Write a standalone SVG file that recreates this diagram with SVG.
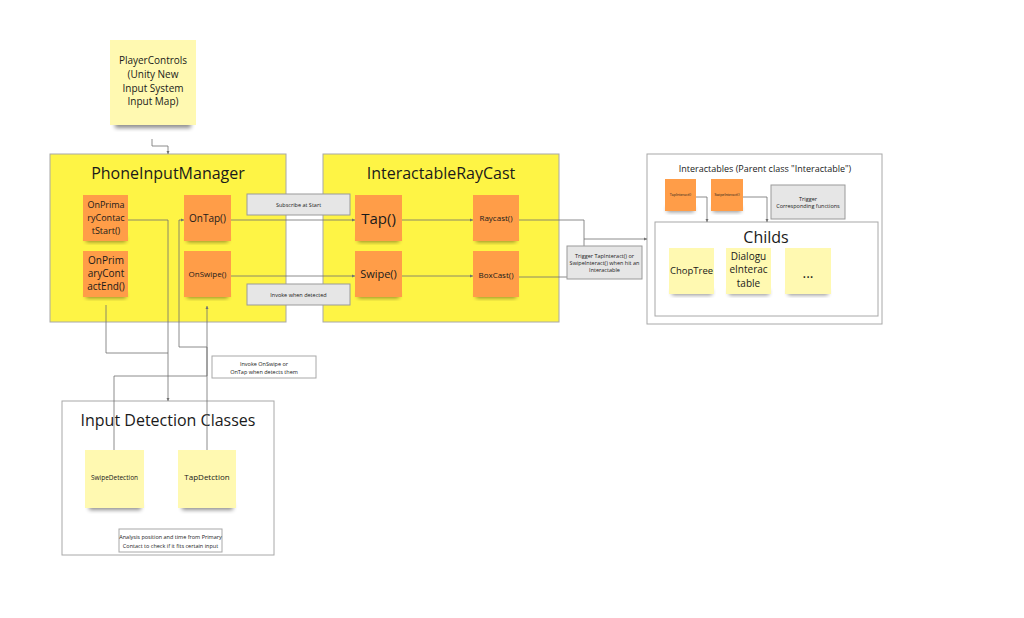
<svg xmlns="http://www.w3.org/2000/svg" width="1024" height="618" viewBox="0 0 1024 618">
<defs>
<style>
text{font-family:"Open Sans","Noto Sans","Liberation Sans",sans-serif;fill:#1a1a1a;text-anchor:middle}
.frame{fill:#FEF445;stroke:#a8a8a8;stroke-width:1}
.wbox{fill:#ffffff;stroke:#a8a8a8;stroke-width:1}
.gbox{fill:#e6e6e6;stroke:#9a9a9a;stroke-width:1}
.orange{fill:#FF9D48}
.lemon{fill:#FFF9B1}
.conn{fill:none;stroke:#707070;stroke-width:0.8}
.shadow{fill:#000;opacity:0.45;filter:url(#blur)}
.tiny{font-size:5.5px}
</style>
<filter id="blur" x="-20%" y="-50%" width="140%" height="200%"><feGaussianBlur stdDeviation="2"/></filter>
<marker id="arr" viewBox="0 0 6 6" refX="6" refY="3" markerWidth="4" markerHeight="4" orient="auto-start-reverse"><path d="M0,0 L6,3 L0,6 z" fill="#707070"/></marker>
</defs>
<rect width="1024" height="618" fill="#ffffff"/>

<g id="player-controls">
<rect class="shadow" x="115" y="121" width="76" height="7"/>
<rect class="lemon" x="110" y="40" width="86" height="85"/>
<text font-size="10"><tspan x="153" y="64">PlayerControls</tspan><tspan x="153" y="78">(Unity New</tspan><tspan x="153" y="92">Input System</tspan><tspan x="153" y="105">Input Map)</tspan></text>
</g>

<g id="phone-input-manager">
<rect class="frame" x="50" y="154" width="236" height="168"/>
<text x="168" y="179" font-size="16">PhoneInputManager</text>
</g>
<g id="on-primary-contact-start">
<rect class="shadow" x="86" y="237" width="40" height="5"/>
<rect class="orange" x="83" y="195" width="45" height="46"/>
<text font-size="9"><tspan x="106" y="208">OnPrima</tspan><tspan x="106" y="221">ryContac</tspan><tspan x="106" y="234">tStart()</tspan></text>
</g>
<g id="on-primary-contact-end">
<rect class="shadow" x="86" y="293" width="40" height="5"/>
<rect class="orange" x="83" y="251" width="45" height="46"/>
<text font-size="10"><tspan x="106" y="264">OnPrim</tspan><tspan x="106" y="277">aryCont</tspan><tspan x="106" y="290">actEnd()</tspan></text>
</g>
<g id="on-tap">
<rect class="shadow" x="187" y="237" width="41" height="5"/>
<rect class="orange" x="184" y="195" width="47" height="46"/>
<text x="207.5" y="222" font-size="10">OnTap()</text>
</g>
<g id="on-swipe">
<rect class="shadow" x="187" y="293" width="41" height="5"/>
<rect class="orange" x="184" y="251" width="47" height="46"/>
<text x="207.5" y="277" font-size="8">OnSwipe()</text>
</g>

<g id="interactable-raycast">
<rect class="frame" x="323" y="154" width="236" height="168"/>
<text x="441" y="179" font-size="16">InteractableRayCast</text>
</g>
<g id="tap">
<rect class="shadow" x="358" y="237" width="41" height="5"/>
<rect class="orange" x="355" y="195" width="47" height="46"/>
<text x="378.5" y="224" font-size="15">Tap()</text>
</g>
<g id="swipe">
<rect class="shadow" x="358" y="293" width="41" height="5"/>
<rect class="orange" x="355" y="251" width="47" height="46"/>
<text x="378.5" y="278" font-size="11">Swipe()</text>
</g>
<g id="raycast">
<rect class="shadow" x="476" y="237" width="40" height="5"/>
<rect class="orange" x="473" y="195" width="46" height="46"/>
<text x="496" y="221" font-size="8">Raycast()</text>
</g>
<g id="boxcast">
<rect class="shadow" x="476" y="293" width="40" height="5"/>
<rect class="orange" x="473" y="251" width="46" height="46"/>
<text x="496" y="278" font-size="8">BoxCast()</text>
</g>

<g id="interactables">
<rect class="wbox" x="647" y="154" width="235" height="170"/>
<text x="765" y="172" font-size="9">Interactables (Parent class "Interactable")</text>
</g>
<g id="tap-interact">
<rect class="shadow" x="667" y="207" width="27" height="5"/>
<rect class="orange" x="665" y="179" width="31" height="32"/>
<text x="680.5" y="196" font-size="3.6">TapInteract()</text>
</g>
<g id="swipe-interact">
<rect class="shadow" x="713" y="207" width="28" height="5"/>
<rect class="orange" x="711" y="179" width="32" height="32"/>
<text x="727" y="196" font-size="3.6">SwipeInteract()</text>
</g>
<g id="trigger-corresponding">
<rect class="gbox" x="771" y="185" width="74" height="34"/>
<text class="tiny"><tspan x="808" y="201">Trigger</tspan><tspan x="808" y="208">Corresponding functions</tspan></text>
</g>
<g id="childs">
<rect class="wbox" x="655" y="222" width="223" height="94"/>
<text x="766" y="243" font-size="16">Childs</text>
</g>
<g id="chop-tree">
<rect class="shadow" x="672" y="290" width="40" height="5"/>
<rect class="lemon" x="669" y="248" width="45" height="46"/>
<text x="691.5" y="274" font-size="9.5">ChopTree</text>
</g>
<g id="dialogue-interactable">
<rect class="shadow" x="729" y="290" width="40" height="5"/>
<rect class="lemon" x="726" y="248" width="45" height="46"/>
<text font-size="10"><tspan x="748.5" y="260">Dialogu</tspan><tspan x="748.5" y="273">eInterac</tspan><tspan x="748.5" y="287">table</tspan></text>
</g>
<g id="more">
<rect class="shadow" x="788" y="290" width="40" height="5"/>
<rect class="lemon" x="785" y="248" width="46" height="46"/>
<text x="808" y="278" font-size="14">...</text>
</g>

<g id="input-detection-classes">
<rect class="wbox" x="62" y="401" width="212" height="154"/>
<text x="168" y="426" font-size="16">Input Detection Classes</text>
</g>
<g id="swipe-detection">
<rect class="shadow" x="89" y="503" width="52" height="7"/>
<rect class="lemon" x="85" y="450" width="59" height="58"/>
<text x="114.5" y="480" font-size="6.5">SwipeDetection</text>
</g>
<g id="tap-detection">
<rect class="shadow" x="182" y="503" width="51" height="7"/>
<rect class="lemon" x="178" y="450" width="58" height="58"/>
<text x="207" y="480" font-size="8">TapDetction</text>
</g>

<g id="connectors">
<path class="conn" d="M152,139 V146 H168 V154" marker-end="url(#arr)"/>
<path class="conn" d="M231,220 H355" marker-end="url(#arr)"/>
<path class="conn" d="M231,276 H355" marker-end="url(#arr)"/>
<path class="conn" d="M402,220 H473" marker-end="url(#arr)"/>
<path class="conn" d="M402,276 H473" marker-end="url(#arr)"/>
<path class="conn" d="M519,220 H584 V239 H647" marker-end="url(#arr)"/>
<path class="conn" d="M519,277 H584 V239"/>
<path class="conn" d="M696,197 H707 V222" marker-end="url(#arr)"/>
<path class="conn" d="M743,197 H767 V222" marker-end="url(#arr)"/>
<path class="conn" d="M128,220 H168 V401" marker-end="url(#arr)"/>
<path class="conn" d="M106,305 V353 H168"/>
<path class="conn" d="M114,450 V376 H207 V306" marker-end="url(#arr)"/>
<path class="conn" d="M207,450 V347 H179 V220 H184" marker-end="url(#arr)"/>
</g>

<g id="subscribe-at-start">
<rect class="gbox" x="247" y="194" width="103" height="21"/>
<text class="tiny" x="298.5" y="206.5">Subscribe at Start</text>
</g>
<g id="invoke-when-detected">
<rect class="gbox" x="247" y="284" width="103" height="21"/>
<text class="tiny" x="298.5" y="296.5">Invoke when detected</text>
</g>
<g id="trigger-tap-interact">
<rect class="gbox" x="567" y="246" width="75" height="33"/>
<text class="tiny"><tspan x="604.5" y="258">Trigger TapInteract() or</tspan><tspan x="604.5" y="265">SwipeInteract() when hit an</tspan><tspan x="604.5" y="272">Interactable</tspan></text>
</g>
<g id="invoke-onswipe">
<rect class="wbox" x="212" y="356" width="104" height="22"/>
<text class="tiny"><tspan x="264" y="366">Invoke OnSwipe or</tspan><tspan x="264" y="374">OnTap when detects them</tspan></text>
</g>
<g id="analysis-note">
<rect class="wbox" x="119" y="529" width="103" height="23"/>
<text class="tiny"><tspan x="170.5" y="539">Analysis position and time from Primary</tspan><tspan x="170.5" y="547.5">Contact to check if it fits certain input</tspan></text>
</g>
</svg>
